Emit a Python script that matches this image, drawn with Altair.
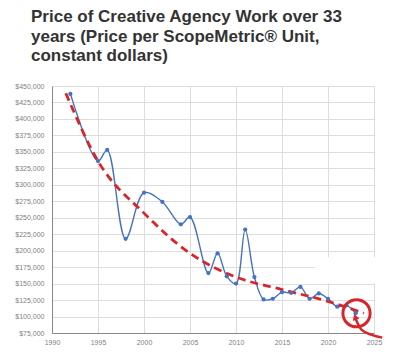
import altair as alt
import pandas as pd

# ---- data ----
years = [1992, 1995, 1996, 1998, 2000, 2002, 2004, 2005, 2007, 2008, 2009, 2010,
         2011, 2012, 2013, 2014, 2015, 2016, 2017, 2018, 2019, 2020, 2021, 2022, 2023]
prices = [438000, 336000, 353000, 218000, 288000, 274000, 240000, 251000, 166000,
          196000, 161000, 150000, 232000, 160000, 126000, 127000, 137000, 136000,
          145000, 127000, 135000, 127000, 115000, 117000, 105000]

trend_years = [1991.5, 1995, 2000, 2005, 2010, 2015, 2020, 2023.9]
trend_values = [439000, 336000, 257000, 196000, 160000, 141000, 123000, 105000]

# annotation (red circle + hand-drawn arrow tail)
circle_year = [2023.1]
circle_value = [105000]
arrow_years = [2022.93, 2023.66, 2024.75, 2025.9]
arrow_values = [99000, 79600, 72200, 68000]
arrow_head_year = [2022.95]
arrow_head_value = [99500]

# white patch that hides part of the grid in the reference
patch_x = [2018.6]
patch_x2 = [2025.8]
patch_y = [190000]
patch_y2 = [151000]

x_ticks = [1990, 1995, 2000, 2005, 2010, 2015, 2020, 2025]
y_ticks = list(range(75000, 450001, 25000))

title_lines = ["Price of Creative Agency Work over 33",
               "years (Price per ScopeMetric® Unit,",
               "constant dollars)"]

BLUE = "#4472c4"
RED = "#d7262b"
LABEL = "#7f7f7f"

xscale = alt.Scale(domain=[1990, 2025], nice=False, zero=False)
yscale = alt.Scale(domain=[75000, 450000], nice=False, zero=False)
xaxis = alt.Axis(values=x_ticks, format="d", title=None, grid=True, ticks=False,
                 labelPadding=5, labelFlush=False, labelFontSize=7,
                 labelFont="Liberation Sans", labelColor=LABEL)
yaxis = alt.Axis(values=y_ticks, format="$,.0f", title=None, grid=True, ticks=False,
                 labelPadding=8, labelFlush=False, labelFontSize=7,
                 labelFont="Liberation Sans", labelColor=LABEL)

def X(field):
    return alt.X(field, type="quantitative", scale=xscale, axis=xaxis)

def Y(field):
    return alt.Y(field, type="quantitative", scale=yscale, axis=yaxis)

df = pd.DataFrame({"year": years, "price": prices})
tdf = pd.DataFrame({"year": trend_years, "price": trend_values})
cdf = pd.DataFrame({"year": circle_year, "price": circle_value})
adf = pd.DataFrame({"year": arrow_years, "price": arrow_values})
hdf = pd.DataFrame({"year": arrow_head_year, "price": arrow_head_value})
pdf = pd.DataFrame({"x": patch_x, "x2": patch_x2, "y": patch_y, "y2": patch_y2})

patch = alt.Chart(pdf).mark_rect(color="white").encode(
    x=X("x"), x2="x2", y=Y("y"), y2="y2")

line = alt.Chart(df).mark_line(color=BLUE, strokeWidth=1.4,
                               interpolate="catmull-rom").encode(
    x=X("year"), y=Y("price"))

pts = alt.Chart(df).mark_point(filled=True, color=BLUE, size=18, opacity=1).encode(
    x=X("year"), y=Y("price"))

trend = alt.Chart(tdf).mark_line(color=RED, strokeWidth=2.8, strokeDash=[8, 5],
                                 interpolate="monotone").encode(
    x=X("year"), y=Y("price"))

circ = alt.Chart(cdf).mark_point(shape="circle", filled=False, color=RED,
                                 strokeWidth=3, size=740, opacity=1).encode(
    x=X("year"), y=Y("price"))

arrow = alt.Chart(adf).mark_line(color=RED, strokeWidth=2.5,
                                 interpolate="monotone").encode(
    x=X("year"), y=Y("price"))

head = alt.Chart(hdf).mark_point(shape="triangle-up", filled=True, color=RED,
                                 size=50, angle=340, opacity=1).encode(
    x=X("year"), y=Y("price"))

chart = alt.layer(patch, line, trend, pts, circ, arrow, head).properties(
    width=322, height=247,
    autosize=alt.AutoSizeParams(type="none"),
    padding={"left": 44, "top": 78, "right": 18, "bottom": 16},
    title=alt.TitleParams(text=title_lines, anchor="start", frame="group",
                          font="Liberation Sans", fontSize=17, fontWeight="bold",
                          color="#333333", lineHeight=19.5, dx=-21, offset=4,
                          baseline="alphabetic"),
).configure_view(stroke=None).configure_axis(
    gridColor="#d9d9d9", gridWidth=1, domainColor="#bfbfbf", domainWidth=1,
).configure(background="white")

chart.save("out.html", embed_options={"renderer": "svg", "actions": False})
